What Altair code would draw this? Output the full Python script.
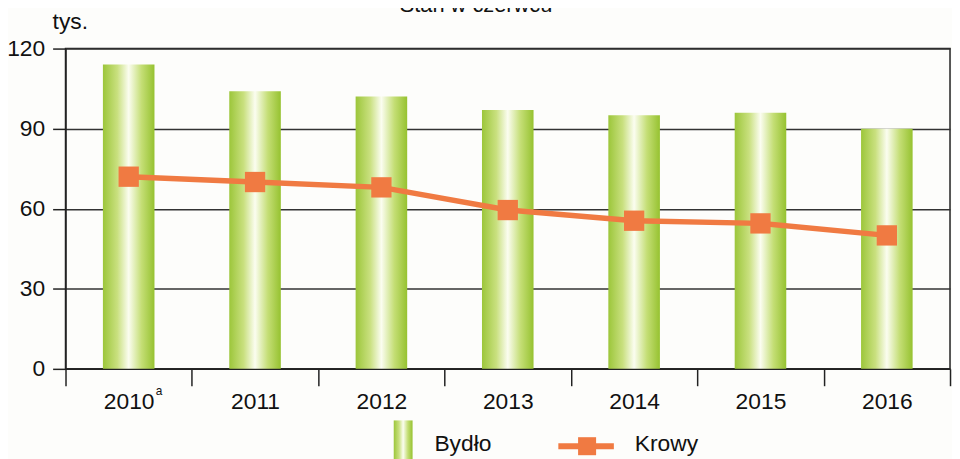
import altair as alt
import pandas as pd

years = ["2010", "2011", "2012", "2013", "2014", "2015", "2016"]
bydlo = [114, 104, 102, 97, 95, 96, 90]
krowy = [72, 70, 68, 59.5, 55.5, 54.5, 50]
y_ticks = [0, 30, 60, 90, 120]

df = pd.DataFrame({"rok": years, "Bydło": bydlo, "Krowy": krowy})
one = pd.DataFrame({"k": [0]})

FONT = "Liberation Sans"
GREEN = "#9cc63a"
ORANGE = "#f07a42"
grad = alt.Gradient(
    gradient="linear",
    stops=[
        alt.GradientStop(color=GREEN, offset=0),
        alt.GradientStop(color="#c9e07f", offset=0.28),
        alt.GradientStop(color="#fbfdf0", offset=0.5),
        alt.GradientStop(color="#c4de75", offset=0.75),
        alt.GradientStop(color="#96c230", offset=1),
    ],
    x1=0, x2=1, y1=0, y2=0,
)

x_enc = alt.X(
    "rok:N",
    sort=years,
    scale=alt.Scale(paddingInner=0, paddingOuter=0),
    axis=alt.Axis(
        title=None, labelAngle=0, labelFontSize=23, labelFont=FONT,
        labelColor="#111", tickBand="extent", tickSize=17, tickColor="#222",
        tickWidth=1.5, domainColor="#222", domainWidth=1.5, labelPadding=5,
        grid=False,
    ),
)
y_scale = alt.Scale(domain=[0, 120], nice=False)
y_axis = alt.Axis(
    title=None, values=y_ticks, labelFontSize=23, labelFont=FONT, labelColor="#111",
    tickSize=13, tickColor="#222", tickWidth=1.5, domainColor="#222", domainWidth=1.5,
    grid=True, gridColor="#333", gridWidth=1.5, labelPadding=8,
)

bars = alt.Chart(df).mark_bar(width=52, fill=grad).encode(
    x=x_enc, y=alt.Y("Bydło:Q", scale=y_scale, axis=y_axis)
)
line = alt.Chart(df).mark_line(
    color=ORANGE, strokeWidth=5.5,
    point=alt.OverlayMarkDef(shape="square", size=420, filled=True, color=ORANGE, opacity=1),
).encode(x=alt.X("rok:N", sort=years), y=alt.Y("Krowy:Q", scale=y_scale))

def txt(s, x, y, size=22, align="left"):
    return alt.Chart(one).mark_text(
        text=s, font=FONT, fontSize=size, align=align, baseline="alphabetic", color="#111"
    ).encode(x=alt.value(x), y=alt.value(y))

sup = txt("a", 91, 349, size=12)
tys = txt("tys.", -13, -20, size=23)
title = txt("Stan w czerwcu", 414, -37, size=22, align="center")

leg_rect = alt.Chart(one).mark_rect(fill=grad).encode(
    x=alt.value(331), x2=alt.value(350), y=alt.value(375), y2=alt.value(420)
)
leg_line = alt.Chart(one).mark_rule(color=ORANGE, strokeWidth=6).encode(
    x=alt.value(497), x2=alt.value(553), y=alt.value(401)
)
leg_sq = alt.Chart(one).mark_point(
    shape="square", size=330, filled=True, color=ORANGE, opacity=1
).encode(x=alt.value(526), y=alt.value(401))
leg_t1 = txt("Bydło", 372, 406, size=23)
leg_t2 = txt("Krowy", 574, 406, size=23)

chart = alt.layer(
    bars, line, sup, tys, title, leg_rect, leg_line, leg_sq, leg_t1, leg_t2
).properties(
    width=892, height=323,
    autosize=alt.AutoSizeParams(type="none"),
    padding={"left": 58, "top": 39, "right": 2, "bottom": 90},
    background="#fdfdfb",
).configure_view(stroke="#222", strokeWidth=1.5)

chart.save("out.html", embed_options={"renderer": "svg", "actions": False})
